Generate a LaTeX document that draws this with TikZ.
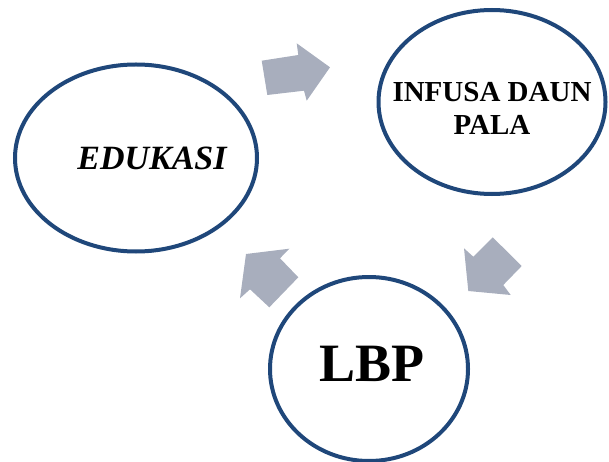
\documentclass[tikz,border=0pt]{standalone}
\usepackage{fontspec}
\setmainfont{Liberation Serif}
\usetikzlibrary{shapes.geometric}
\definecolor{ringblue}{RGB}{31,71,122}
\definecolor{arrowgrey}{RGB}{168,174,189}
\tikzset{
  ring/.style={ellipse, draw=ringblue, line width=4pt, fill=white, inner sep=0pt},
  label/.style={font=\bfseries, text=black, align=center, inner sep=0pt},
  flow/.style={fill=arrowgrey, draw=none}
}
\begin{document}
\begin{tikzpicture}[x=1pt,y=-1pt]
\useasboundingbox (0,0) rectangle (609,462);
\clip (0,0) rectangle (609,462);
% arrows
\fill[flow] (261.7,60.7) -- (298.3,55) -- (296.7,43.3) -- (330,67.3) -- (306.7,100.7) -- (304,90.7) -- (267.3,95) -- cycle;
\fill[flow] (464,248.3) -- (473.3,256.7) -- (492.7,237.3) -- (521.7,266) -- (503.3,285) -- (510.7,295) -- (468.3,291) -- cycle;
\fill[flow] (246,254) -- (289.3,248.7) -- (280,258.3) -- (298.3,277.3) -- (269.3,307.3) -- (250,289.3) -- (240,298.3) -- cycle;
% ellipses
\node[ring, minimum width=242pt, minimum height=187pt] (edu) at (136,158) {};
\node[ring, minimum width=227pt, minimum height=184pt] (inf) at (492,102) {};
\node[ring, minimum width=198pt, minimum height=184pt] (lbp) at (369,369) {};
% texts
\node[label, font=\bfseries\itshape\fontsize{34}{40}\selectfont] (tedu) at (152,158) {EDUKASI};
\node[label, font=\bfseries\fontsize{29}{33}\selectfont] (tinf) at (492,108) {INFUSA DAUN\\PALA};
\node[label, font=\bfseries\fontsize{54}{60}\selectfont] (tlbp) at (372,364) {LBP};
\end{tikzpicture}
\end{document}
